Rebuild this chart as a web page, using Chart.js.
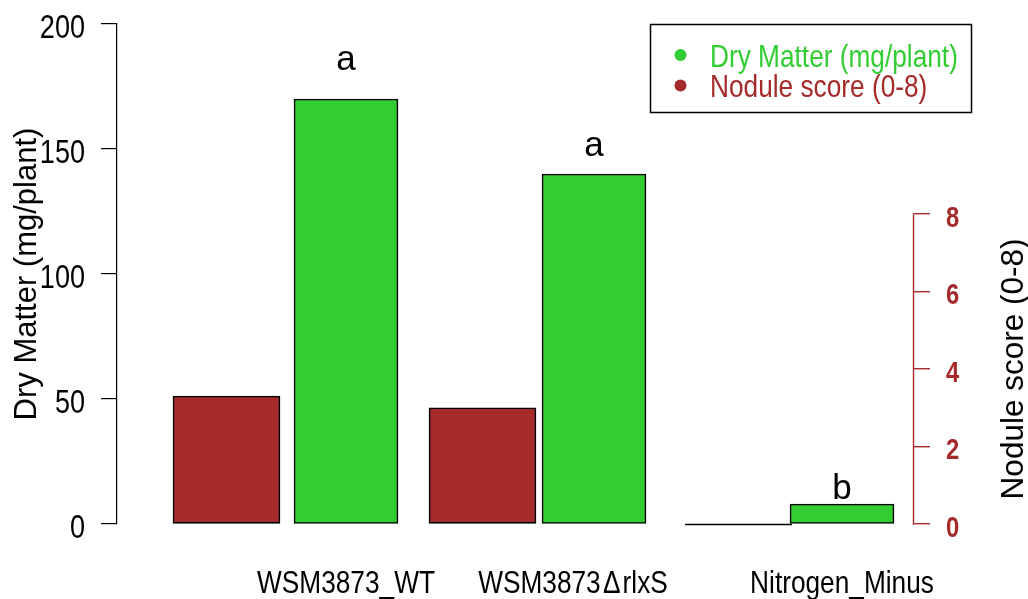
<!DOCTYPE html>
<html>
<head>
<meta charset="utf-8">
<script src="https://cdn.jsdelivr.net/npm/chart.js@4/dist/chart.umd.min.js"></script>
<style>
  html, body { margin: 0; padding: 0; background: #ffffff; }
  canvas { display: block; }
</style>
</head>
<body>
<canvas id="chart" width="1028" height="599" style="width:1028px;height:599px"></canvas>
<script>
// Treatments and measured values
const categories = ['WSM3873_WT', 'WSM3873\u200A\u0394\u200ArlxS', 'Nitrogen_Minus'];
const dryMatter = [170, 140, 8];        // mg per plant
const noduleScore = [3.3, 3.0, 0];      // score on a 0-8 scale
const letters = ['a', 'a', 'b'];        // significance groups for dry matter
const dryMatterTicks = [0, 50, 100, 150, 200];
const noduleTicks = [0, 2, 4, 6, 8];

const GREEN = '#32CD32';
const BROWN = '#A52A2A';
const SANS = '"Liberation Sans", Arial, Helvetica, sans-serif';
const NARROW = 0.82; // horizontal squeeze for the condensed axis lettering

function drawText(ctx, text, x, y, o) {
  ctx.save();
  ctx.translate(x, y);
  if (o.rot) ctx.rotate(o.rot);
  ctx.scale(o.sx || 1, 1);
  ctx.font = o.font;
  ctx.fillStyle = o.color || '#000';
  ctx.textAlign = o.align || 'center';
  ctx.textBaseline = o.baseline || 'alphabetic';
  ctx.fillText(text, 0, 0);
  ctx.restore();
}

// Axis labels, titles, letters, legend and zero-height bar outlines
const decorations = {
  id: 'decorations',
  afterDatasetsDraw(chart, args, opts) {
    const ctx = chart.ctx;
    const area = chart.chartArea;
    const y = chart.scales.y, y2 = chart.scales.y2, xg = chart.scales.xGreen;

    // zero-valued bars still show their outline as a flat line
    chart.data.datasets.forEach((ds, di) => {
      const meta = chart.getDatasetMeta(di);
      meta.data.forEach((el, i) => {
        if (ds.data[i].y === 0) {
          const p = el.getProps(['x', 'width', 'base'], true);
          ctx.save();
          ctx.strokeStyle = '#000';
          ctx.lineWidth = 1.5;
          ctx.beginPath();
          ctx.moveTo(p.x - p.width / 2, Math.round(p.base) + 0.5);
          ctx.lineTo(p.x + p.width / 2, Math.round(p.base) + 0.5);
          ctx.stroke();
          ctx.restore();
        }
      });
    });

    // right axis line spans only the labelled range
    ctx.save();
    ctx.strokeStyle = BROWN;
    ctx.lineWidth = 1.4;
    const rx = Math.round(area.right) + 0.5;
    ctx.beginPath();
    ctx.moveTo(rx, Math.round(y2.getPixelForValue(noduleTicks[0])) + 0.5);
    ctx.lineTo(rx, Math.round(y2.getPixelForValue(noduleTicks[noduleTicks.length - 1])) + 0.5);
    ctx.stroke();
    ctx.restore();

    // left tick labels
    dryMatterTicks.forEach(v => {
      drawText(ctx, String(v), area.left - 32, y.getPixelForValue(v) + 14,
        { font: '33px ' + SANS, align: 'right', sx: NARROW });
    });
    // right tick labels
    noduleTicks.forEach(v => {
      drawText(ctx, String(v), area.right + 33, y2.getPixelForValue(v) + 13,
        { font: 'bold 29px ' + SANS, align: 'left', sx: NARROW, color: BROWN });
    });
    // category labels under the green bars
    categories.forEach((c, i) => {
      drawText(ctx, c, xg.getPixelForValue(i) + opts.labelShift[i], 593,
        { font: '32px ' + SANS, sx: NARROW });
    });
    // axis titles
    drawText(ctx, 'Dry Matter (mg/plant)', 36, (area.top + area.bottom) / 2,
      { font: '31px ' + SANS, rot: -Math.PI / 2 });
    drawText(ctx, 'Nodule score (0-8)', 1023,
      (y2.getPixelForValue(0) + y2.getPixelForValue(8)) / 2,
      { font: '31.5px ' + SANS, rot: -Math.PI / 2 });
    // significance letters above the green bars
    letters.forEach((t, i) => {
      drawText(ctx, t, xg.getPixelForValue(i), y.getPixelForValue(dryMatter[i] + opts.letterLift[i]),
        { font: '35px ' + SANS });
    });

    // legend
    const L = opts.legend;
    ctx.save();
    ctx.strokeStyle = '#000';
    ctx.lineWidth = 1.5;
    ctx.strokeRect(L.x + 0.5, L.y + 0.5, L.w, L.h);
    ctx.restore();
    [['Dry Matter (mg/plant)', GREEN], ['Nodule score (0-8)', BROWN]].forEach((row, k) => {
      const cy = L.y + 31 + k * 30.5;
      ctx.save();
      ctx.fillStyle = row[1];
      ctx.beginPath();
      ctx.arc(L.x + 30.5, cy, 6, 0, Math.PI * 2);
      ctx.fill();
      ctx.restore();
      drawText(ctx, row[0], L.x + 60, cy + 11.5,
        { font: '32px ' + SANS, align: 'left', sx: NARROW, color: row[1] });
    });
  }
};

new Chart(document.getElementById('chart'), {
  type: 'bar',
  data: {
    datasets: [
      {
        label: 'Nodule score (0-8)',
        data: noduleScore.map((v, i) => ({ x: i, y: v })),
        xAxisID: 'xRed',
        yAxisID: 'y2',
        backgroundColor: BROWN,
        borderColor: '#000',
        borderWidth: 1.6,
        borderSkipped: false,
        grouped: false,
        barThickness: 107
      },
      {
        label: 'Dry Matter (mg/plant)',
        data: dryMatter.map((v, i) => ({ x: i, y: v })),
        xAxisID: 'xGreen',
        yAxisID: 'y',
        backgroundColor: GREEN,
        borderColor: '#000',
        borderWidth: 1.6,
        borderSkipped: false,
        grouped: false,
        barThickness: 104
      }
    ]
  },
  options: {
    responsive: false,
    animation: false,
    events: [],
    layout: { padding: { top: 24, bottom: 75, left: 0, right: 0 } },
    plugins: {
      legend: { display: false },
      tooltip: { enabled: false },
      decorations: {
        labelShift: [0, -21, 0],
        letterLift: [11.6, 7.2, 2],
        legend: { x: 650, y: 24, w: 321, h: 88 }
      }
    },
    scales: {
      xRed: { type: 'linear', display: false, offset: false, min: -0.4277, max: 2.6816 },
      xGreen: { type: 'linear', display: false, offset: false, min: -0.9234, max: 2.2863 },
      y: {
        type: 'linear',
        position: 'left',
        min: 0,
        max: 200,
        afterBuildTicks: s => { s.ticks = dryMatterTicks.map(v => ({ value: v })); },
        afterFit: s => { s.width = 117; },
        ticks: { display: false },
        grid: { drawOnChartArea: false, drawTicks: true, tickLength: 16, color: '#000', lineWidth: 1.2 },
        border: { display: true, color: '#000', width: 1.2 }
      },
      y2: {
        type: 'linear',
        position: 'right',
        min: 0,
        max: 12.9,
        afterBuildTicks: s => { s.ticks = noduleTicks.map(v => ({ value: v })); },
        afterFit: s => { s.width = 115; },
        ticks: { display: false },
        grid: { drawOnChartArea: false, drawTicks: true, tickLength: 17, color: BROWN, lineWidth: 1.4 },
        border: { display: false }
      }
    }
  },
  plugins: [decorations]
});
</script>
</body>
</html>
